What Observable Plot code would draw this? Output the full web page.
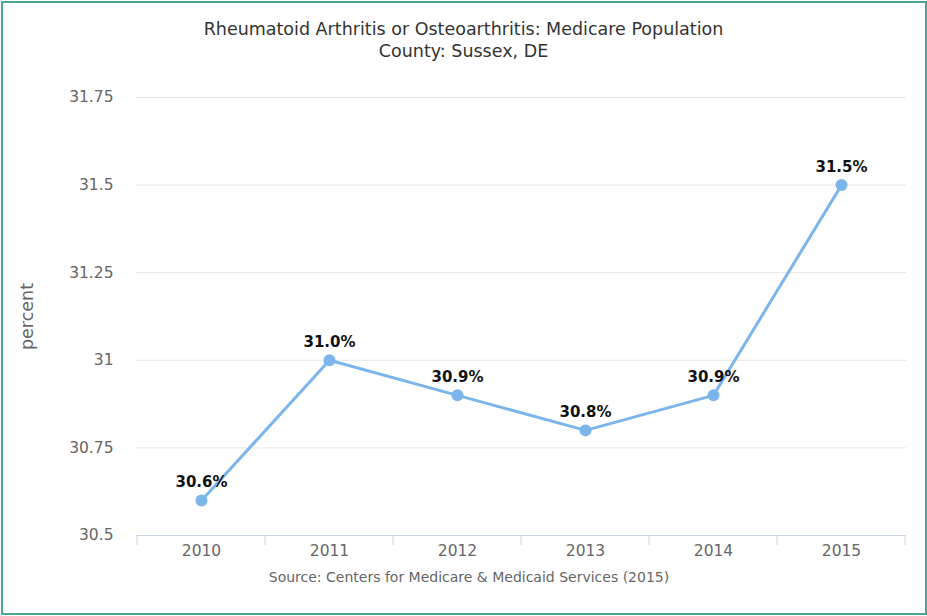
<!DOCTYPE html>
<html>
<head>
<meta charset="utf-8">
<script src="https://cdn.jsdelivr.net/npm/d3@7"></script>
<script src="https://cdn.jsdelivr.net/npm/@observablehq/plot@0.6"></script>
<style>
  html, body { margin: 0; padding: 0; background: #fff; }
  #wrap { position: relative; width: 927px; height: 616px; overflow: hidden; font-family: "DejaVu Sans", Verdana, sans-serif; }
  #frame { position: absolute; left: 1px; top: 1px; width: 922px; height: 610px; border: 2px solid #4da597; pointer-events: none; }
  #title { position: absolute; left: 0; top: 18px; width: 927px; text-align: center; color: #333; font-size: 17.5px; line-height: 22px; }
  #source { position: absolute; left: 0; top: 569px; width: 938px; text-align: center; color: #666; font-size: 14px; }
  #chart { position: absolute; left: 0; top: 0; }
</style>
</head>
<body>
<div id="wrap">
  <div id="chart"></div>
  <div id="title">Rheumatoid Arthritis or Osteoarthritis: Medicare Population<br>County: Sussex, DE</div>
  <div id="source">Source: Centers for Medicare &amp; Medicaid Services (2015)</div>
  <div id="frame"></div>
</div>
<script>
const years = ["2010", "2011", "2012", "2013", "2014", "2015"];
const values = [30.6, 31.0, 30.9, 30.8, 30.9, 31.5];
const yTicks = [30.5, 30.75, 31, 31.25, 31.5, 31.75];
const yLabel = "percent";

const data = years.map((y, i) => ({year: y, value: values[i]}));

// band boundary ticks drawn from the x scale
const bandTicks = (index, scales, channels, dims) => {
  const x = scales.x;
  const bw = x.bandwidth();
  const pos = years.map(y => x(y)).concat([x(years[years.length - 1]) + bw]);
  const g = d3.create("svg:g");
  const y0 = dims.height - dims.marginBottom;
  for (const p of pos) {
    g.append("line").attr("x1", p).attr("x2", p).attr("y1", y0).attr("y2", y0 + 10)
      .attr("stroke", "#ccd6eb").attr("stroke-width", 1);
  }
  return g.node();
};

const chart = Plot.plot({
  width: 927,
  height: 616,
  marginLeft: 136,
  marginRight: 21,
  marginTop: 97,
  marginBottom: 81,
  style: {fontFamily: "DejaVu Sans, Verdana, sans-serif", fontSize: "15.5px", background: "transparent"},
  x: {type: "band", domain: years, padding: 0, label: null, tickSize: 0, tickPadding: 9},
  y: {domain: [30.5, 31.75], ticks: yTicks, tickFormat: d => String(d), tickSize: 0, tickPadding: 23,
      label: yLabel, labelAnchor: "center", labelOffset: 116, labelArrow: "none"},
  marks: [
    Plot.gridY(yTicks, {stroke: "#e6e6e6", strokeOpacity: 1}),
    Plot.ruleY([30.5], {stroke: "#ccd6eb", strokeWidth: 1}),
    bandTicks,
    Plot.line(data, {x: "year", y: "value", stroke: "#7cb5ec", strokeWidth: 3}),
    Plot.dot(data, {x: "year", y: "value", r: 6, fill: "#7cb5ec"}),
    Plot.text(data, {x: "year", y: "value", text: d => d.value.toFixed(1) + "%", dy: -18,
      fontWeight: "bold", fontSize: 15, fill: "#111"})
  ]
});
document.getElementById("chart").appendChild(chart);
d3.select(chart).selectAll("[aria-label='x-axis tick label'] text, [aria-label='y-axis tick label'] text").attr("fill", "#666");
d3.select(chart).selectAll("[aria-label='y-axis label'] text").attr("fill", "#666").style("font-size", "17.5px");
</script>
</body>
</html>
